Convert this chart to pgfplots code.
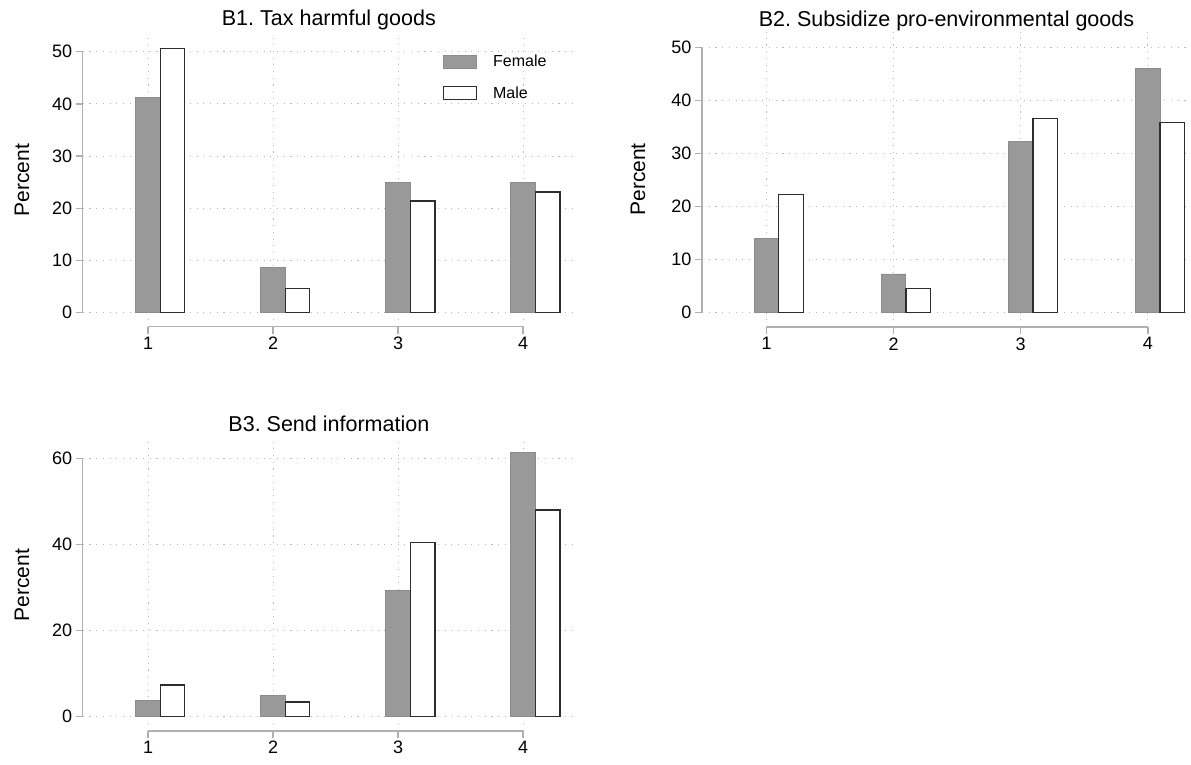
\documentclass[border=0pt]{standalone}
\usepackage{fontspec}
\setmainfont{Liberation Sans}
\usepackage{pgfplots}
\pgfplotsset{compat=1.18}
\frenchspacing
\definecolor{femfill}{RGB}{153,153,153}
\definecolor{femedge}{RGB}{140,140,140}
\definecolor{maledge}{RGB}{45,45,45}
\definecolor{axgray}{RGB}{176,176,176}
\definecolor{gridgray}{RGB}{185,185,185}

\pgfplotsset{
  stata/.style={
    scale only axis,
    axis line style={draw=none},
    xtick pos=bottom, ytick pos=left,
    xtick align=outside, ytick align=outside,
    major tick length=7pt,
    tick style={axgray, line width=1.4pt},
    grid=major,
    major grid style={gridgray, line width=1.1pt, dash pattern=on 1.1pt off 5.6pt},
    xtick={1,2,3,4},
    ticklabel style={font=\fontsize{18}{20}\selectfont},
    /pgf/number format/assume math mode=true,
    ylabel={Percent},
    every axis y label/.style={at={(axis description cs:-0.1233,0.5)}, rotate=90, anchor=center, font=\fontsize{21}{23}\selectfont},
    every axis title shift=0pt,
    title style={font=\fontsize{21.5}{24}\selectfont, at={(axis description cs:0.5,1)}, anchor=base},
    clip=false,
  },
  fem/.style={ybar, bar width=24.5pt, bar shift=0pt, fill=femfill, draw=femedge, line width=0.8pt,
    /pgfplots/legend image code/.code={\draw[##1] (0pt,-6.5pt) rectangle (33pt,6.5pt);}},
  mal/.style={ybar, bar width=24.5pt, bar shift=24.5pt, fill=white, draw=maledge, line width=1.3pt,
    /pgfplots/legend image code/.code={\draw[##1] (0pt,-6.5pt) rectangle (33pt,6.5pt);}},
}

\begin{document}
\begin{tikzpicture}[x=1pt,y=1pt]
\useasboundingbox[fill=white] (0,0) rectangle (1191,765);

% B1
\begin{axis}[stata,
  at={(82.7pt,438.2pt)}, anchor=south west,
  width=492.3pt, height=293.4pt,
  xmin=0.477, xmax=4.415, ymin=-2.7, ymax=53.5,
  ytick={0,10,20,30,40,50},
  title style={yshift=7.4pt},
  title={B1. Tax harmful goods},
  legend style={draw=none, fill=none, at={(axis description cs:0.725,0.941)}, anchor=north west,
    font=\fontsize{16}{18}\selectfont, row sep=14.5pt, cells={anchor=west},
    /tikz/every odd column/.append style={column sep=14pt}},
]
\addplot[fem] coordinates {(1,41.25) (2,8.6) (3,25.0) (4,25.0)};
\addlegendentry{Female}
\addplot[mal] coordinates {(1,50.55) (2,4.6) (3,21.4) (4,23.1)};
\addlegendentry{Male}
\draw[axgray, line width=1.4pt] (axis cs:0.477,0) -- (axis cs:0.477,50);
\draw[axgray, line width=1.4pt] (axis cs:1,-2.7) -- (axis cs:4,-2.7);
\end{axis}

% B2
\begin{axis}[stata,
  at={(702pt,438pt)}, anchor=south west,
  width=489pt, height=295.2pt,
  xmin=0.492, xmax=4.34, ymin=-2.7, ymax=53,
  ytick={0,10,20,30,40,50},
  every axis y label/.style={at={(axis description cs:-0.131,0.5)}, rotate=90, anchor=center, font=\fontsize{21}{23}\selectfont},
  title style={yshift=5pt},
  title={B2. Subsidize pro-environmental goods},
]
\addplot[fem] coordinates {(1,13.95) (2,7.3) (3,32.25) (4,46.1)};
\addplot[mal] coordinates {(1,22.3) (2,4.6) (3,36.65) (4,35.95)};
\draw[axgray, line width=1.4pt] (axis cs:0.492,0) -- (axis cs:0.492,50);
\draw[axgray, line width=1.4pt] (axis cs:1,-2.7) -- (axis cs:4,-2.7);
\end{axis}

% B3
\begin{axis}[stata,
  at={(82.7pt,34.1pt)}, anchor=south west,
  width=492.3pt, height=291.6pt,
  xmin=0.477, xmax=4.415, ymin=-3.3, ymax=64.5,
  ytick={0,20,40,60},
  title style={yshift=7.6pt},
  title={B3. Send information},
]
\addplot[fem] coordinates {(1,3.7) (2,4.85) (3,29.45) (4,61.45)};
\addplot[mal] coordinates {(1,7.35) (2,3.4) (3,40.45) (4,48.05)};
\draw[axgray, line width=1.4pt] (axis cs:0.477,0) -- (axis cs:0.477,60);
\draw[axgray, line width=1.4pt] (axis cs:1,-3.3) -- (axis cs:4,-3.3);
\end{axis}
\end{tikzpicture}
\end{document}
